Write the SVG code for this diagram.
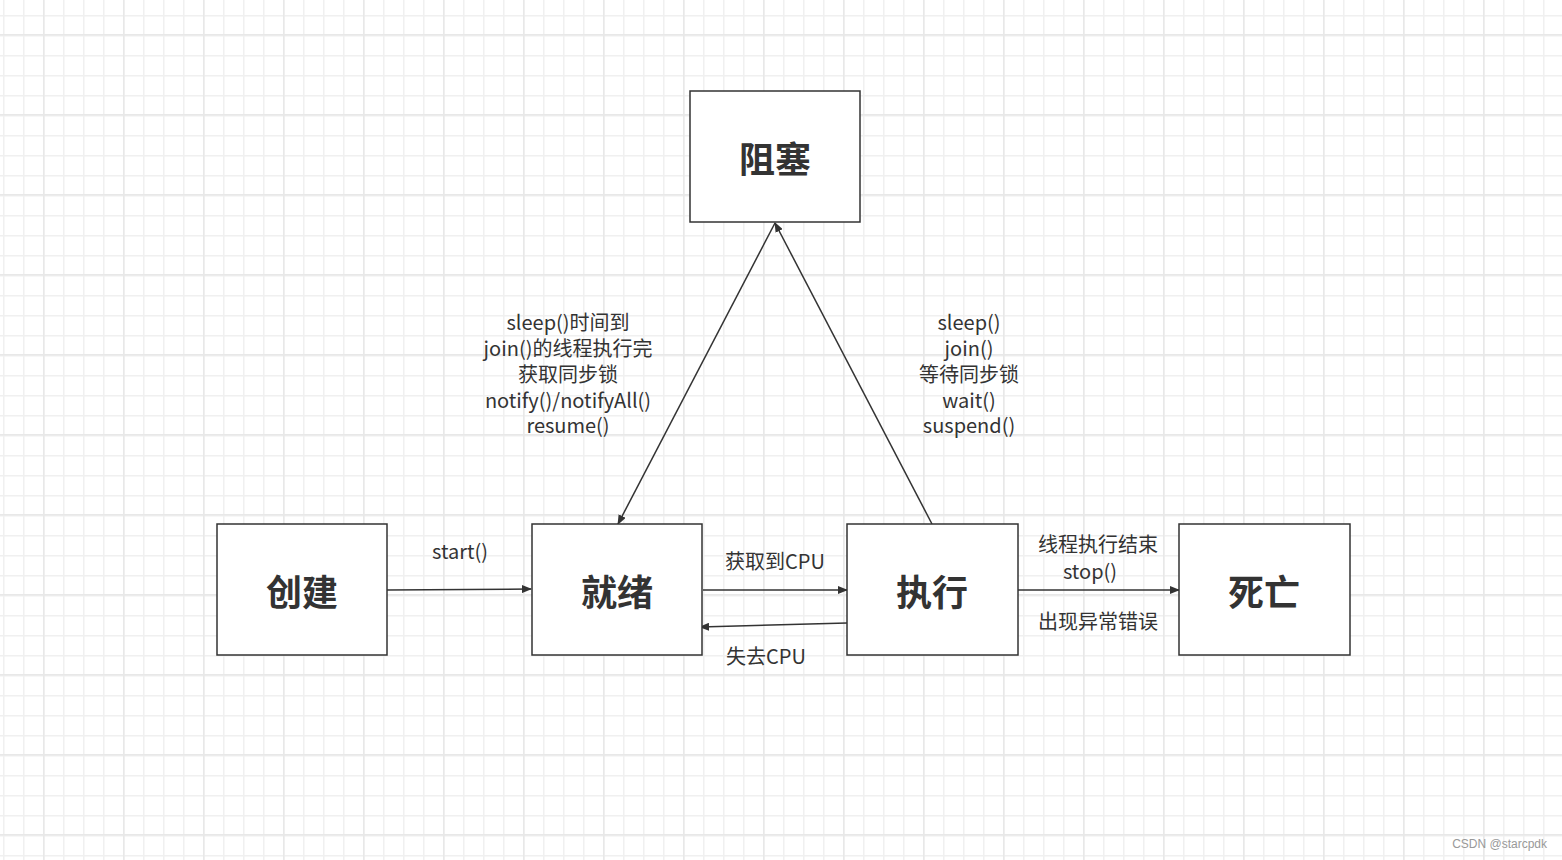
<svg xmlns="http://www.w3.org/2000/svg" width="1562" height="860" viewBox="0 0 1562 860">
<defs>
<pattern id="minor" width="20" height="20" patternUnits="userSpaceOnUse" x="3" y="-5"><path d="M0 0H20M0 0V20" fill="none" stroke="#f0f0f0" stroke-width="3"/></pattern>
<pattern id="major" width="80" height="80" patternUnits="userSpaceOnUse" x="43" y="34"><path d="M0 0H80M0 0V80" fill="none" stroke="#e8e8e8" stroke-width="3"/></pattern>
<marker id="ah" markerWidth="10" markerHeight="8" refX="9" refY="4" orient="auto" markerUnits="userSpaceOnUse"><path d="M0 0L10 4L0 8Z" fill="#333"/></marker>
</defs>
<style>
.n rect{fill:#fff;stroke:#333;stroke-width:1.5}
.n text{font-family:"Noto Sans CJK SC",sans-serif;font-weight:bold;font-size:36px;fill:#333;text-anchor:middle}
.c line{stroke:#333;stroke-width:1.5;marker-end:url(#ah)}
.l{font-family:"Noto Sans CJK SC",sans-serif;font-size:20px;fill:#333;text-anchor:middle}
</style>
<rect width="1562" height="860" fill="#fff"/>
<rect width="1562" height="860" fill="url(#minor)"/>
<rect width="1562" height="860" fill="url(#major)"/>
<g class="c">
<line x1="387" y1="590" x2="531" y2="589"/>
<line x1="703" y1="590" x2="847" y2="590"/>
<line x1="847" y1="623" x2="700" y2="627"/>
<line x1="1018" y1="590" x2="1179" y2="590"/>
<line x1="932" y1="524" x2="775" y2="223"/>
<line x1="775" y1="223" x2="618" y2="524"/>
</g>
<g id="zuse" class="n"><rect x="690" y="91" width="170" height="131"/><text x="775" y="173">阻塞</text></g>
<g id="chuangjian" class="n"><rect x="217" y="524" width="170" height="131"/><text x="302" y="606">创建</text></g>
<g id="jiuxu" class="n"><rect x="532" y="524" width="170" height="131"/><text x="617" y="606">就绪</text></g>
<g id="zhixing" class="n"><rect x="847" y="524" width="171" height="131"/><text x="932" y="606">执行</text></g>
<g id="siwang" class="n"><rect x="1179" y="524" width="171" height="131"/><text x="1264" y="606">死亡</text></g>
<g class="l">
<text x="460" y="559">start()</text>
<text x="775" y="569">获取到CPU</text>
<text x="766" y="664">失去CPU</text>
<text x="1098" y="552">线程执行结束</text>
<text x="1090" y="579">stop()</text>
<text x="1098" y="629">出现异常错误</text>
<text x="568" y="330">sleep()时间到</text>
<text x="568" y="356">join()的线程执行完</text>
<text x="568" y="382">获取同步锁</text>
<text x="568" y="408">notify()/notifyAll()</text>
<text x="568" y="433">resume()</text>
<text x="969" y="330">sleep()</text>
<text x="969" y="356">join()</text>
<text x="969" y="382">等待同步锁</text>
<text x="969" y="408">wait()</text>
<text x="969" y="433">suspend()</text>
</g>
<text x="1547" y="848" font-family="Liberation Sans,sans-serif" font-size="12" fill="#999" text-anchor="end">CSDN @starcpdk</text>
</svg>
